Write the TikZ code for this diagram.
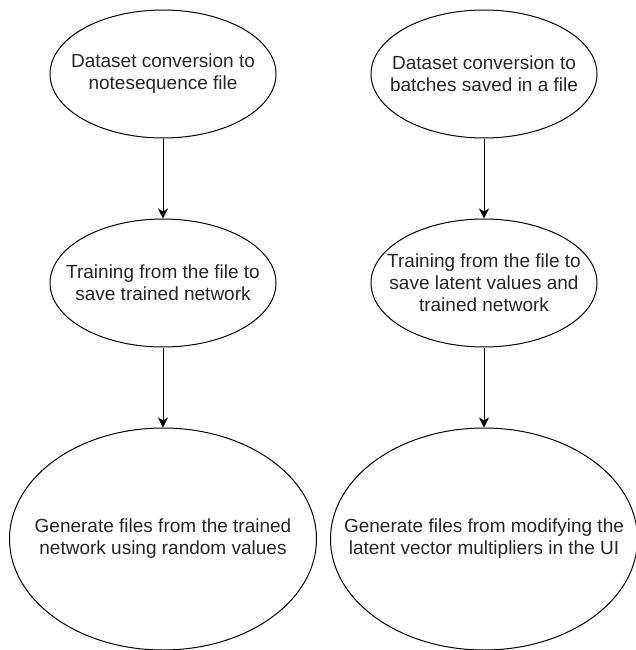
\documentclass[tikz,border=0pt]{standalone}
\usepackage{fontspec}
\setmainfont{Liberation Sans}
\usepackage{tikz}
\usetikzlibrary{shapes, arrows.meta, positioning, shapes.geometric}

\begin{document}
\begin{tikzpicture}[
            x=1pt, y=1pt,
            node distance=80pt and 94pt,
            stage/.style={draw, ellipse, align=center, line width=1pt, text=black!85,
                inner xsep=-40pt, inner ysep=0pt, minimum width=226pt, minimum height=128pt,
                font=\fontsize{19}{22}\selectfont},
            output/.style={stage, minimum width=307pt, minimum height=222pt},
            arrow1/.style={-{Stealth[length=10pt, width=10pt, inset=3pt]}, line width=1pt},
        ]
            \useasboundingbox (0,0) rectangle (635,-650);

            % Nodes
            \node[stage] (notesConv) at (163,-74) {Dataset conversion to\\notesequence file};
            \node[stage, right=of notesConv] (batchConv) {Dataset conversion to\\batches saved in a file};
            \node[stage, below=of notesConv] (notesTrain) {Training from the file to\\save trained network};
            \node[stage, below=of batchConv] (latentTrain) {Training from the file to\\save latent values and\\trained network};
            \node[output, below=of notesTrain] (randomGen) {Generate files from the trained\\network using random values};
            \node[output, below=of latentTrain] (uiGen) {Generate files from modifying the\\latent vector multipliers in the UI};

            % Arrows
            \draw[arrow1] (notesConv) -- (notesTrain);
            \draw[arrow1] (notesTrain) -- (randomGen);
            \draw[arrow1] (batchConv) -- (latentTrain);
            \draw[arrow1] (latentTrain) -- (uiGen);

\end{tikzpicture}
\end{document}
